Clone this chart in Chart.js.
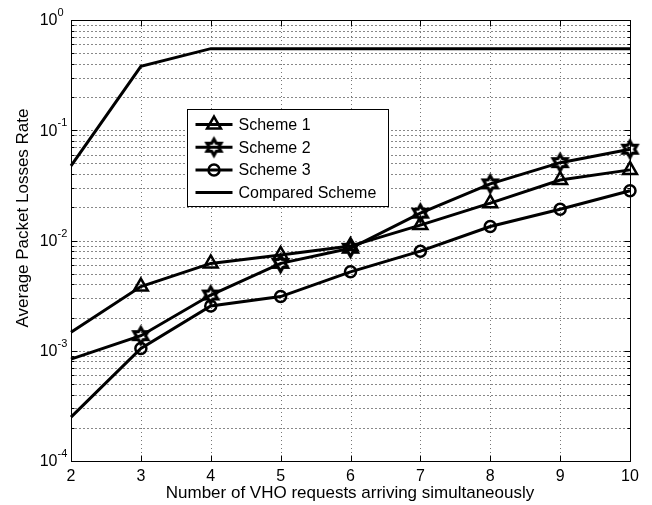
<!DOCTYPE html>
<html>
<head>
<meta charset="utf-8">
<script src="https://cdn.jsdelivr.net/npm/chart.js@4/dist/chart.umd.min.js"></script>
<style>
  html, body { margin: 0; padding: 0; background: #fff; }
  #wrap { width: 652px; height: 505px; }
</style>
</head>
<body>
<div id="wrap"><canvas id="chart" width="652" height="505"></canvas></div>
<script>
// Number of simultaneous VHO requests
const requests = [2, 3, 4, 5, 6, 7, 8, 9, 10];

// Average packet loss rate per scheme
const scheme1 = [0.00147, 0.00382, 0.0062, 0.0074, 0.0089, 0.0138, 0.0218, 0.0354, 0.0437];
const scheme2 = [0.00084, 0.00137, 0.0032, 0.0062, 0.0085, 0.0177, 0.0326, 0.0508, 0.0673];
const scheme3 = [0.00025, 0.00105, 0.00255, 0.0031, 0.0052, 0.0080, 0.0134, 0.0192, 0.0283];
const compared = [0.0475, 0.38, 0.55, 0.55, 0.55, 0.55, 0.55, 0.55, 0.55];

// Axis ticks
const xTicks = [2, 3, 4, 5, 6, 7, 8, 9, 10];
const yDecades = [-4, -3, -2, -1, 0];

const seriesNames = ['Scheme 1', 'Scheme 2', 'Scheme 3', 'Compared Scheme'];

const FONT = 'Arial, "Liberation Sans", Helvetica, sans-serif';

// Six-pointed star marker
function makeHexagram(R, lw) {
  const size = Math.ceil(2 * R + 2 * lw + 2);
  const c = document.createElement('canvas');
  c.width = size; c.height = size;
  const g = c.getContext('2d');
  const cx = size / 2, cy = size / 2, r = R / Math.sqrt(3);
  g.beginPath();
  for (let i = 0; i < 12; i++) {
    const a = -Math.PI / 2 + i * Math.PI / 6;
    const rr = i % 2 === 0 ? R : r;
    const px = cx + rr * Math.cos(a), py = cy + rr * Math.sin(a);
    if (i === 0) g.moveTo(px, py); else g.lineTo(px, py);
  }
  g.closePath();
  g.lineWidth = lw;
  g.lineJoin = 'miter';
  g.strokeStyle = '#000';
  g.stroke();
  return c;
}
const hexagram = makeHexagram(8, 3.2);

const toPoints = vals => vals.map((v, i) => ({ x: requests[i], y: v }));
const skipFirst = r => ctx => (ctx.dataIndex === 0 ? 0 : r);

const baseLine = {
  borderColor: '#000',
  backgroundColor: 'rgba(0,0,0,0)',
  borderWidth: 3,
  tension: 0,
  clip: false,
  pointBorderColor: '#000',
  pointBackgroundColor: 'rgba(0,0,0,0)',
  pointBorderWidth: 2.5,
  pointHoverRadius: 0
};

const datasets = [
  Object.assign({}, baseLine, { label: seriesNames[0], data: toPoints(scheme1), pointStyle: 'triangle', pointRadius: skipFirst(8) }),
  Object.assign({}, baseLine, { label: seriesNames[1], data: toPoints(scheme2), pointStyle: hexagram, pointRadius: skipFirst(8) }),
  Object.assign({}, baseLine, { label: seriesNames[2], data: toPoints(scheme3), pointStyle: 'circle', pointRadius: skipFirst(5.5) }),
  Object.assign({}, baseLine, { label: seriesNames[3], data: toPoints(compared), pointRadius: 0 })
];

// Grid lines drawn behind the curves
const gridPlugin = {
  id: 'matlabGrid',
  beforeDatasetsDraw(chart) {
    const { ctx, chartArea: a, scales: { x, y } } = chart;
    ctx.save();
    ctx.lineWidth = 1;
    // horizontal lines at every decade and sub-decade value
    ctx.strokeStyle = '#888';
    ctx.setLineDash([2, 2]);
    yDecades.forEach(k => {
      for (let m = 1; m <= 9; m++) {
        const v = m * Math.pow(10, k);
        if (v > y.max * 1.0001) break;
        const py = Math.round(y.getPixelForValue(v)) + 0.5;
        if (py <= a.top + 1 || py >= a.bottom - 1) continue;
        ctx.beginPath(); ctx.moveTo(a.left, py); ctx.lineTo(a.right, py); ctx.stroke();
      }
    });
    // vertical lines at each integer request count
    ctx.strokeStyle = '#777';
    ctx.setLineDash([1, 3]);
    xTicks.forEach(t => {
      const px = Math.round(x.getPixelForValue(t)) + 0.5;
      if (px <= a.left + 1 || px >= a.right - 1) return;
      ctx.beginPath(); ctx.moveTo(px, a.top); ctx.lineTo(px, a.bottom); ctx.stroke();
    });
    ctx.restore();
  }
};

// Axes box, tick marks, labels and legend
const framePlugin = {
  id: 'matlabFrame',
  afterDatasetsDraw(chart) {
    const { ctx, chartArea: a, scales: { x, y } } = chart;
    const L = Math.round(a.left) + 0.5, R = Math.round(a.right) + 0.5;
    const T = Math.round(a.top) + 0.5, B = Math.round(a.bottom) + 0.5;
    ctx.save();
    ctx.setLineDash([]);
    ctx.strokeStyle = '#000';
    ctx.lineWidth = 1;
    ctx.strokeRect(L, T, R - L, B - T);

    // x ticks (bottom and top, inward)
    ctx.beginPath();
    xTicks.forEach(t => {
      const px = Math.round(x.getPixelForValue(t)) + 0.5;
      ctx.moveTo(px, B); ctx.lineTo(px, B - 6);
      ctx.moveTo(px, T); ctx.lineTo(px, T + 6);
    });
    // y ticks (left and right, inward); decades longer
    yDecades.forEach(k => {
      for (let m = 1; m <= 9; m++) {
        const v = m * Math.pow(10, k);
        if (v > y.max * 1.0001) break;
        const py = Math.round(y.getPixelForValue(v)) + 0.5;
        const len = m === 1 ? 6 : 3;
        ctx.moveTo(L, py); ctx.lineTo(L + len, py);
        ctx.moveTo(R, py); ctx.lineTo(R - len, py);
      }
    });
    ctx.stroke();

    // tick labels
    ctx.fillStyle = '#000';
    ctx.font = '16px ' + FONT;
    ctx.textAlign = 'center';
    ctx.textBaseline = 'alphabetic';
    xTicks.forEach(t => {
      ctx.fillText(String(t), x.getPixelForValue(t), B + 19);
    });
    yDecades.forEach(k => {
      const py = y.getPixelForValue(Math.pow(10, k));
      ctx.font = '16px ' + FONT;
      ctx.textAlign = 'right';
      ctx.textBaseline = 'middle';
      ctx.fillText('10', L - 14, py + 1);
      ctx.font = '11px ' + FONT;
      ctx.textAlign = 'left';
      ctx.fillText(String(k), L - 14, py - 7);
    });

    // axis titles
    ctx.font = '17px ' + FONT;
    ctx.textAlign = 'center';
    ctx.textBaseline = 'alphabetic';
    ctx.fillText('Number of VHO requests arriving simultaneously', (L + R) / 2 - 1, 498);
    ctx.save();
    ctx.translate(28, (T + B) / 2 - 23);
    ctx.rotate(-Math.PI / 2);
    ctx.fillText('Average Packet Losses Rate', 0, 0);
    ctx.restore();

    // legend
    const bx = Math.round(a.left + 116) + 0.5, by = Math.round(a.top + 89) + 0.5;
    const bw = 201, bh = 97;
    ctx.fillStyle = '#fff';
    ctx.fillRect(bx, by, bw, bh);
    ctx.strokeRect(bx, by, bw, bh);
    chart.data.datasets.forEach((ds, i) => {
      const cy = by + 15 + i * 22.7;
      const x0 = bx + 8, x1 = bx + 45, cx = (x0 + x1) / 2;
      ctx.lineWidth = ds.borderWidth;
      ctx.strokeStyle = ds.borderColor;
      ctx.beginPath(); ctx.moveTo(x0, cy); ctx.lineTo(x1, cy); ctx.stroke();
      if (i < 3) {
        const r = i === 2 ? 5.5 : 8;
        ctx.lineWidth = ds.pointBorderWidth;
        ctx.fillStyle = 'rgba(0,0,0,0)';
        Chart.helpers.drawPoint(ctx, { pointStyle: ds.pointStyle, radius: r, borderWidth: ds.pointBorderWidth, rotation: 0 }, cx, cy);
      }
      ctx.fillStyle = '#000';
      ctx.font = '16px ' + FONT;
      ctx.textAlign = 'left';
      ctx.textBaseline = 'middle';
      ctx.fillText(ds.label, bx + 51, cy + 1);
    });
    ctx.restore();
  }
};

new Chart(document.getElementById('chart'), {
  type: 'line',
  data: { datasets },
  options: {
    responsive: false,
    animation: false,
    events: [],
    layout: { padding: { left: 71, top: 20, right: 22, bottom: 44 } },
    scales: {
      x: { type: 'linear', min: 2, max: 10, display: false },
      y: { type: 'logarithmic', min: 1e-4, max: 1, display: false }
    },
    plugins: { legend: { display: false }, tooltip: { enabled: false } }
  },
  plugins: [gridPlugin, framePlugin]
});
</script>
</body>
</html>
